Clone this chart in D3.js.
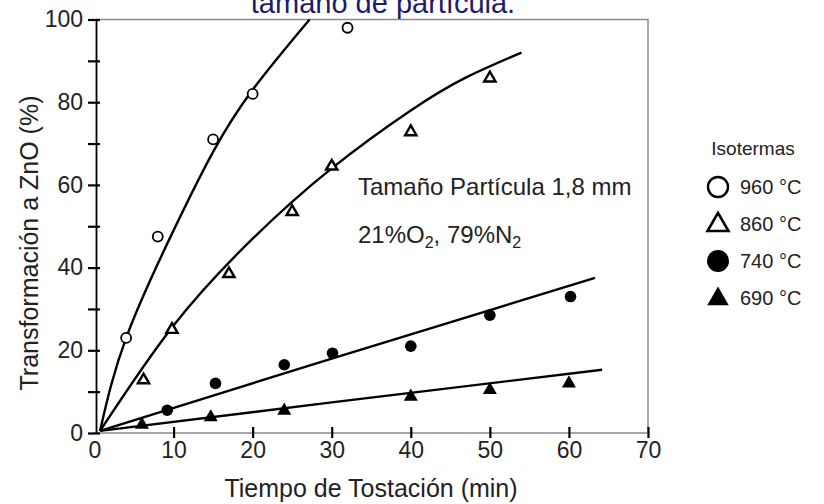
<!DOCTYPE html>
<head>
  <meta charset="utf-8">
  <script src="https://d3js.org/d3.v7.min.js"></script>
  <style>
    body { margin: 0; background: #fff; }
    text { font-family: Arial, "Liberation Sans", sans-serif; }
  </style>
</head>
<body>
  <div id="chart"></div>
</body>

<script>

// measured points, time (min) vs conversion (%)
var t960 = [4, 8, 15, 20, 32],
    v960 = [23, 47.5, 71, 82, 98];
var t860 = [6.2, 9.8, 17, 25, 30, 40, 50],
    v860 = [12.8, 25, 38.5, 53.5, 64.5, 72.8, 85.8];
var t740 = [9.2, 15.3, 24, 30.1, 40, 50, 60.2],
    v740 = [5.5, 12, 16.5, 19.3, 21, 28.5, 33];
var t690 = [6, 14.7, 24, 40, 50, 60],
    v690 = [2, 3.8, 5.4, 8.8, 10.4, 12];

// fitted curves
var c960t = [0.7, 4, 10, 15, 20, 27.2],
    c960v = [0.5, 23, 49, 68, 83, 100];
var c860t = [0.7, 10, 20, 30, 40, 47, 54],
    c860v = [0.5, 26, 47, 64, 78, 86, 92];
var c740t = [0.7, 30, 63.3],
    c740v = [0.5, 18, 37.5];
var c690t = [0.7, 30, 64.2],
    c690v = [0.5, 7.4, 15.3];

var xTicks = [0, 10, 20, 30, 40, 50, 60, 70];
var yTicks = [0, 10, 20, 30, 40, 50, 60, 70, 80, 90, 100];
var legendLabels = ["960 °C", "860 °C", "740 °C", "690 °C"];

var svg = d3.select("#chart")
  .append("svg")
    .attr("width", 824)
    .attr("height", 504);

var x = d3.scaleLinear().domain([0, 70]).range([94.5, 648]);
var y = d3.scaleLinear().domain([0, 100]).range([433, 19.5]);

// frame (top and right in grey)
svg.append("path")
  .attr("d", "M96,19.5H648V433")
  .style("fill", "none")
  .style("stroke", "#8a8a8a")
  .style("stroke-width", 1.5);

// x axis
var xAxis = svg.append("g")
  .attr("transform", "translate(0,433)")
  .call(d3.axisBottom(x).tickValues(xTicks).tickSizeOuter(0));
xAxis.select(".domain").attr("d", "M93,0H648").style("stroke", "#8a8a8a").style("stroke-width", 1.5);
xAxis.selectAll(".tick line").attr("y1", -6).attr("y2", 5).style("stroke-width", 2.2);
xAxis.selectAll(".tick").filter(function (d) { return d === 0; }).select("line").remove();
xAxis.selectAll(".tick text").attr("y", 9).style("font-size", "23px").style("fill", "#222");

// y axis
var yAxis = svg.append("g")
  .attr("transform", "translate(96,0)")
  .call(d3.axisLeft(y).tickValues(yTicks).tickSizeOuter(0)
    .tickFormat(function (d) { return d % 20 === 0 ? d : ""; }));
yAxis.select(".domain").style("stroke", "#000").style("stroke-width", 1.8);
yAxis.selectAll(".tick line").attr("x1", 4).attr("x2", -8).style("stroke-width", 2.2);
yAxis.selectAll(".tick text").attr("x", -13).style("font-size", "23px").style("fill", "#222");

// axis titles
svg.append("text")
  .attr("x", 371).attr("y", 497)
  .attr("text-anchor", "middle")
  .style("font-size", "25px").style("fill", "#222")
  .text("Tiempo de Tostación (min)");

svg.append("text")
  .attr("transform", "translate(38,243) rotate(-90)")
  .attr("text-anchor", "middle")
  .style("font-size", "25px").style("fill", "#222")
  .text("Transformación a ZnO (%)");

// title (second line, cut at the top)
svg.append("text")
  .attr("x", 383).attr("y", 13)
  .attr("text-anchor", "middle")
  .style("font-size", "29px").style("fill", "#1c1c6e")
  .text("tamaño de partícula.");

// curves
var line = d3.line()
  .x(function (d) { return x(d[0]); })
  .y(function (d) { return y(d[1]); })
  .curve(d3.curveNatural);

var curves = [[c960t, c960v], [c860t, c860v], [c740t, c740v], [c690t, c690v]];
svg.append("g")
  .selectAll("path")
  .data(curves)
  .enter()
  .append("path")
    .attr("d", function (c) { return line(d3.zip(c[0], c[1])); })
    .style("fill", "none")
    .style("stroke", "#000")
    .style("stroke-width", 2.4);

// markers
svg.append("g")
  .selectAll("circle")
  .data(d3.zip(t960, v960))
  .enter()
  .append("circle")
    .attr("cx", function (d) { return x(d[0]); })
    .attr("cy", function (d) { return y(d[1]); })
    .attr("r", 5)
    .style("fill", "#fff")
    .style("stroke", "#000")
    .style("stroke-width", 1.8);

svg.append("g")
  .selectAll("path")
  .data(d3.zip(t860, v860))
  .enter()
  .append("path")
    .attr("d", d3.symbol().type(d3.symbolTriangle).size(55))
    .attr("transform", function (d) { return "translate(" + x(d[0]) + "," + y(d[1]) + ")"; })
    .style("fill", "#fff")
    .style("stroke", "#000")
    .style("stroke-width", 2.4);

svg.append("g")
  .selectAll("circle")
  .data(d3.zip(t740, v740))
  .enter()
  .append("circle")
    .attr("cx", function (d) { return x(d[0]); })
    .attr("cy", function (d) { return y(d[1]); })
    .attr("r", 5.8)
    .style("fill", "#000");

svg.append("g")
  .selectAll("path")
  .data(d3.zip(t690, v690))
  .enter()
  .append("path")
    .attr("d", d3.symbol().type(d3.symbolTriangle).size(85))
    .attr("transform", function (d) { return "translate(" + x(d[0]) + "," + y(d[1]) + ")"; })
    .style("fill", "#000");

// notes inside the plot
svg.append("text")
  .attr("x", 358).attr("y", 195)
  .style("font-size", "24px").style("fill", "#222")
  .text("Tamaño Partícula 1,8 mm");

var note = svg.append("text")
  .attr("x", 358).attr("y", 243)
  .style("font-size", "24px").style("fill", "#222");
note.append("tspan").text("21%O");
note.append("tspan").attr("dy", 5).style("font-size", "16px").text("2");
note.append("tspan").attr("dy", -5).text(", 79%N");
note.append("tspan").attr("dy", 5).style("font-size", "16px").text("2");

// legend
var legY = [187, 224, 261, 298];
svg.append("text")
  .attr("x", 753).attr("y", 155)
  .attr("text-anchor", "middle")
  .style("font-size", "19px").style("fill", "#222")
  .text("Isotermas");

var leg = svg.append("g")
  .selectAll("g")
  .data(legendLabels)
  .enter()
  .append("g")
    .attr("transform", function (d, i) { return "translate(718," + legY[i] + ")"; });

leg.append("text")
  .attr("x", 22).attr("y", 7)
  .style("font-size", "20px").style("fill", "#222")
  .text(function (d) { return d; });

leg.filter(function (d, i) { return i === 0; })
  .append("circle").attr("r", 10)
  .style("fill", "#fff").style("stroke", "#000").style("stroke-width", 2.4);
leg.filter(function (d, i) { return i === 1; })
  .append("path").attr("d", d3.symbol().type(d3.symbolTriangle).size(190))
  .attr("transform", "translate(0,1)")
  .style("fill", "#fff").style("stroke", "#000").style("stroke-width", 2.6);
leg.filter(function (d, i) { return i === 2; })
  .append("circle").attr("r", 11)
  .style("fill", "#000");
leg.filter(function (d, i) { return i === 3; })
  .append("path").attr("d", d3.symbol().type(d3.symbolTriangle).size(200))
  .attr("transform", "translate(0,1)")
  .style("fill", "#000");

</script>
